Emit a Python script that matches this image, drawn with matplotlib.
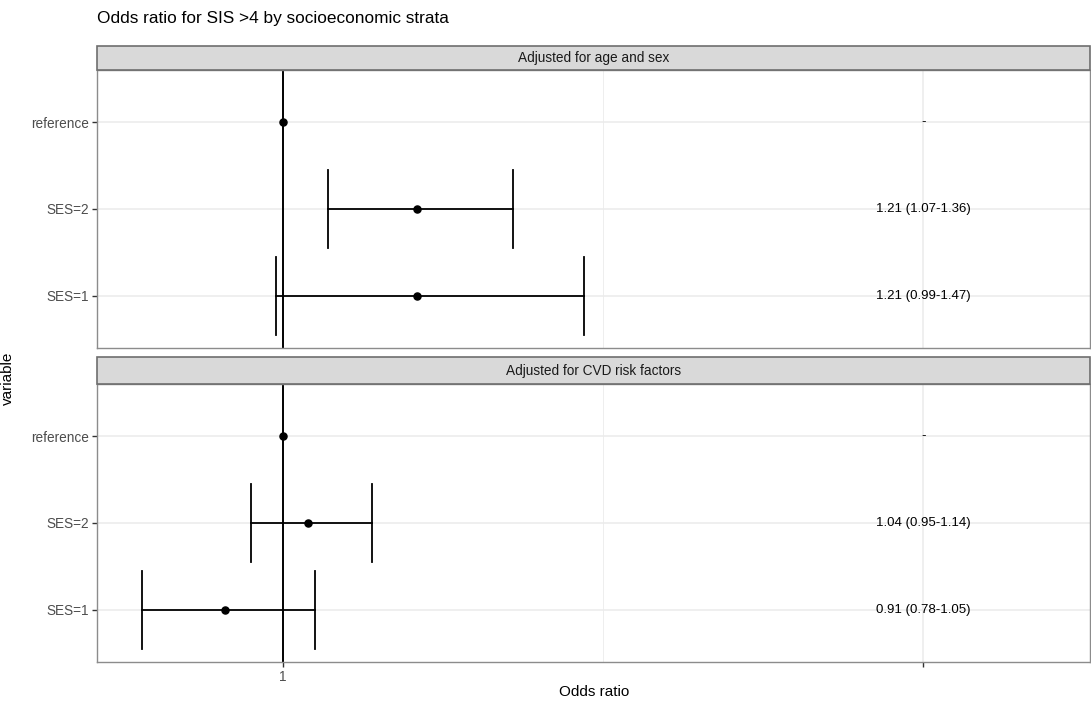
import numpy as np
import matplotlib
matplotlib.use("Agg")
import matplotlib.pyplot as plt
from matplotlib.patches import Rectangle

plt.rcParams['font.family'] = ['Liberation Sans', 'DejaVu Sans']

# rows, bottom to top
row_labels = ['SES=1', 'SES=2', 'reference']

# Adjusted for age and sex
est_age = [1.21, 1.21, 1.00]
low_age = [0.99, 1.07, np.nan]
high_age = [1.47, 1.36, np.nan]
txt_age = ['1.21 (0.99-1.47)', '1.21 (1.07-1.36)', '-']

# Adjusted for CVD risk factors
est_cvd = [0.91, 1.04, 1.00]
low_cvd = [0.78, 0.95, np.nan]
high_cvd = [1.05, 1.14, np.nan]
txt_cvd = ['0.91 (0.78-1.05)', '1.04 (0.95-1.14)', '-']

panels = ['Adjusted for age and sex', 'Adjusted for CVD risk factors']
text_x = 2.0

W, H = 1091, 702
fig = plt.figure(figsize=(W / 100, H / 100), dpi=100)


def px_axes(x0, y0, x1, y1):
    # pixel box (top-left origin) -> figure axes
    return fig.add_axes([x0 / W, 1 - y1 / H, (x1 - x0) / W, (y1 - y0) / H])


def draw_panel(ax, est, low, high, txt, show_x):
    ypos = np.arange(1, len(row_labels) + 1)
    ax.set_xlim(0.71, 2.26)
    ax.set_ylim(0.4, 3.6)
    ax.set_xticks([1, 2])
    ax.set_xticks([1.5], minor=True)
    ax.set_yticks(ypos)
    ax.set_yticklabels(row_labels)
    ax.grid(True, which='major', color='#ebebeb', lw=1.1, zorder=0)
    ax.grid(True, which='minor', axis='x', color='#ebebeb', lw=0.6, zorder=0)
    ax.set_axisbelow(True)
    for s in ax.spines.values():
        s.set_color('#8c8c8c')
        s.set_linewidth(1.0)
    ax.tick_params(axis='both', which='major', length=3.5, width=1.0, color='#333333',
                   labelsize=9.8, labelcolor='#4d4d4d', pad=2)
    ax.tick_params(axis='x', which='minor', length=0)
    if show_x:
        ax.set_xticklabels(['1', ''])
    else:
        ax.tick_params(axis='x', which='major', length=0, labelbottom=False)
    ax.axvline(1, color='black', lw=1.4, zorder=2)
    for y, lo, hi in zip(ypos, low, high):
        if np.isnan(lo):
            continue
        ax.plot([lo, hi], [y, y], color='black', lw=1.3, zorder=3)
        ax.plot([lo, lo], [y - 0.45, y + 0.45], color='black', lw=1.3, zorder=3)
        ax.plot([hi, hi], [y - 0.45, y + 0.45], color='black', lw=1.3, zorder=3)
    ax.scatter(est, ypos, s=26, color='black', zorder=4)
    for y, t in zip(ypos, txt):
        ax.text(text_x, y, t, ha='center', va='center', fontsize=9.5, color='black')


boxes = [(46, 70, 348), (357, 384, 662)]
data = [(est_age, low_age, high_age, txt_age), (est_cvd, low_cvd, high_cvd, txt_cvd)]
for k, ((s0, p0, p1), d) in enumerate(zip(boxes, data)):
    ax = px_axes(97, p0, 1090, p1)
    draw_panel(ax, *d, show_x=(k == 1))
    sax = px_axes(97, s0, 1090, p0)
    sax.set_xlim(0, 1)
    sax.set_ylim(0, 1)
    sax.axis('off')
    sax.add_patch(Rectangle((0, 0), 1, 1, facecolor='#d9d9d9', edgecolor='#6e6e6e',
                            lw=1.2, transform=sax.transAxes, clip_on=False))
    sax.text(0.5, 0.5, panels[k], ha='center', va='center', fontsize=9.8, color='#1a1a1a')

fig.text(97 / W, 1 - 18 / H, 'Odds ratio for SIS >4 by socioeconomic strata',
         ha='left', va='center', fontsize=12.4, color='black')
fig.text(594 / W, 1 - 692 / H, 'Odds ratio', ha='center', va='center',
         fontsize=11, color='black')
fig.text(8 / W, 1 - 378 / H, 'variable', rotation=90, ha='center', va='center',
         fontsize=11, color='black')

fig.savefig('out.png', dpi=100, facecolor='white')
